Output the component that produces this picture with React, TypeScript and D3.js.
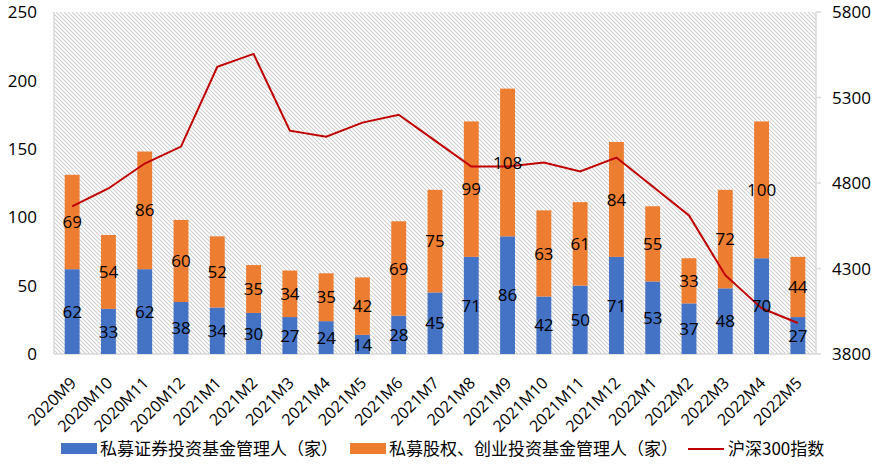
import React from "react";
import * as d3 from "d3";

const categories = ["2020M9","2020M10","2020M11","2020M12","2021M1","2021M2","2021M3","2021M4","2021M5","2021M6","2021M7","2021M8","2021M9","2021M10","2021M11","2021M12","2022M1","2022M2","2022M3","2022M4","2022M5"];
const securities = [62,33,62,38,34,30,27,24,14,28,45,71,86,42,50,71,53,37,48,70,27];
const equityVC = [69,54,86,60,52,35,34,35,42,69,75,99,108,63,61,84,55,33,72,100,44];
const csi300 = [4663,4768,4914,5013,5479,5555,5106,5071,5153,5199,5048,4896,4896,4920,4867,4949,4780,4610,4261,4068,3981];
const leftTicks = [0,50,100,150,200,250];
const rightTicks = [3800,4300,4800,5300,5800];
const legendLabels = ["私募证券投资基金管理人（家）","私募股权、创业投资基金管理人（家）","沪深300指数"];

const W = 878, H = 470;
const M = { left: 54, right: 62, top: 12, bottom: 116 };
const CJK = "'Noto Sans CJK SC', 'Noto Sans', sans-serif";
const NUM = "'Open Sans', 'Noto Sans', sans-serif";

export default function App() {
  const x = d3.scaleBand<string>().domain(categories).range([M.left, W - M.right]).paddingInner(0.59).paddingOuter(0.295);
  const y = d3.scaleLinear().domain([0, 250]).range([H - M.bottom, M.top]);
  const y2 = d3.scaleLinear().domain([3800, 5800]).range([H - M.bottom, M.top]);
  const bw = x.bandwidth();
  const cx = (c: string) => (x(c) as number) + bw / 2;
  const line = d3.line<number>().x((_, i) => cx(categories[i])).y((v) => y2(v));
  const x0 = M.left, x1 = W - M.right, yb = H - M.bottom, yt = M.top;

  return (
    <svg width={W} height={H} style={{ position: "absolute", left: 0, top: 0, fontFamily: NUM }}>
      <defs>
        <pattern id="hatch" patternUnits="userSpaceOnUse" width="4" height="4">
          <path d="M-1,-1 L5,5 M-1,3 L1,5 M3,-1 L5,1" stroke="#cfcfcf" strokeWidth="1.1" />
        </pattern>
      </defs>
      <rect x={0} y={0} width={W} height={H} fill="#fff" />
      <rect x={x0} y={yt} width={x1 - x0} height={yb - yt} fill="url(#hatch)" />
      <line x1={x0} x2={x0} y1={yt} y2={yb} stroke="#d9d9d9" strokeWidth={1.5} />
      <line x1={x1} x2={x1} y1={yt} y2={yb} stroke="#d9d9d9" strokeWidth={1.5} />
      <line x1={x0} x2={x1} y1={yb} y2={yb} stroke="#d9d9d9" strokeWidth={1.5} />
      {rightTicks.map((t) => (
        <line key={"rt" + t} x1={x1} x2={x1 + 5} y1={y2(t)} y2={y2(t)} stroke="#d9d9d9" strokeWidth={1.5} />
      ))}
      {leftTicks.map((t) => (
        <text key={"l" + t} x={x0 - 17} y={y(t)} dy="0.36em" textAnchor="end" fontSize={17} fill="#000">{t}</text>
      ))}
      {rightTicks.map((t) => (
        <text key={"r" + t} x={x1 + 16} y={y2(t)} dy="0.36em" textAnchor="start" fontSize={17} fill="#000">{t}</text>
      ))}
      {categories.map((c, i) => (
        <g key={c}>
          <rect x={x(c)} y={y(securities[i])} width={bw} height={y(0) - y(securities[i])} fill="#4472c4" />
          <rect x={x(c)} y={y(securities[i] + equityVC[i])} width={bw} height={y(0) - y(equityVC[i])} fill="#ed7d31" />
        </g>
      ))}
      <path d={line(csi300) || ""} fill="none" stroke="#c00000" strokeWidth={2} />
      {categories.map((c, i) => (
        <g key={"lab" + c} fontSize={17} fill="#000">
          <text x={cx(c)} y={y(securities[i] / 2)} dy="0.36em" textAnchor="middle">{securities[i]}</text>
          <text x={cx(c)} y={y(securities[i] + equityVC[i] / 2)} dy="0.36em" textAnchor="middle">{equityVC[i]}</text>
        </g>
      ))}
      {categories.map((c) => (
        <text key={"x" + c} transform={`translate(${cx(c) + 5},${yb + 30}) rotate(-45)`} textAnchor="end" fontSize={16} fill="#000">{c}</text>
      ))}
      <g fontSize={17} fill="#000" fontFamily={CJK}>
        <rect x={61} y={443} width={36} height={11} fill="#4472c4" />
        <text x={100} y={449} dy="0.36em">{legendLabels[0]}</text>
        <rect x={350} y={443} width={36} height={11} fill="#ed7d31" />
        <text x={389} y={449} dy="0.36em">{legendLabels[1]}</text>
        <line x1={688} x2={724} y1={449} y2={449} stroke="#c00000" strokeWidth={2} />
        <text x={728} y={449} dy="0.36em">{legendLabels[2]}</text>
      </g>
    </svg>
  );
}
